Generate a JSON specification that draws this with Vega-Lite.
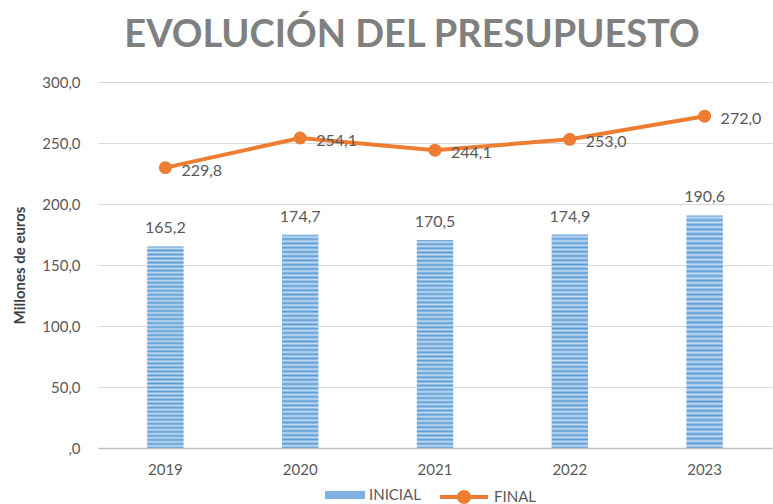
{
  "$schema": "https://vega.github.io/schema/vega-lite/v6.json",
  "autosize": {"type": "none"},
  "width": 674,
  "height": 366,
  "padding": {"top": 82, "left": 98, "right": 1, "bottom": 56},
  "background": "white",
  "title": {
    "text": "EVOLUCIÓN DEL PRESUPUESTO",
    "font": "Lato",
    "fontSize": 38,
    "fontWeight": "bold",
    "color": "#808080",
    "anchor": "middle",
    "dx": -23,
    "offset": 20
  },
  "data": {
    "values": [
      {"anio": "2019", "tipo": "INICIAL", "valor": 165.2},
      {"anio": "2020", "tipo": "INICIAL", "valor": 174.7},
      {"anio": "2021", "tipo": "INICIAL", "valor": 170.5},
      {"anio": "2022", "tipo": "INICIAL", "valor": 174.9},
      {"anio": "2023", "tipo": "INICIAL", "valor": 190.6},
      {"anio": "2019", "tipo": "FINAL", "valor": 229.8},
      {"anio": "2020", "tipo": "FINAL", "valor": 254.1},
      {"anio": "2021", "tipo": "FINAL", "valor": 244.1},
      {"anio": "2022", "tipo": "FINAL", "valor": 253.0},
      {"anio": "2023", "tipo": "FINAL", "valor": 272.0}
    ]
  },
  "encoding": {
    "x": {
      "field": "anio", "type": "ordinal", "title": null,
      "scale": {"paddingInner": 0.73, "paddingOuter": 0.365},
      "axis": {"labelAngle": 0, "ticks": false, "domainColor": "#bfbfbf", "domainWidth": 1.5, "labelPadding": 14, "labelFont": "Lato", "labelFontSize": 15, "labelColor": "#595959"}
    },
    "y": {
      "field": "valor", "type": "quantitative", "title": "Millones de euros",
      "scale": {"domain": [0, 300], "nice": false},
      "axis": {"values": [0, 50, 100, 150, 200, 250, 300], "labelExpr": "datum.value == 0 ? ',0' : replace(format(datum.value, '.1f'), '.', ',')", "domain": false, "ticks": false, "gridColor": "#d9d9d9", "gridWidth": 1.2, "labelPadding": 18, "labelFont": "Lato", "labelFontSize": 15, "labelColor": "#595959", "titleFont": "Lato", "titleFontSize": 15, "titleFontWeight": "bold", "titleColor": "#404040", "titlePadding": 14}
    }
  },
  "layer": [
    {
      "transform": [{"filter": "datum.tipo == 'INICIAL'"}],
      "mark": {"type": "bar", "opacity": 0},
      "encoding": {
        "fill": {
          "field": "tipo", "type": "nominal",
          "scale": {"domain": ["INICIAL"], "range": ["#7fb0e0"]},
          "legend": {"title": null, "orient": "bottom", "symbolType": "M-2,-0.4H2V0.4H-2Z", "symbolSize": 400, "symbolStrokeWidth": 0, "symbolOpacity": 1, "labelFont": "Lato", "labelFontSize": 15, "labelColor": "#595959", "labelOffset": 14, "offset": 8, "padding": 0}
        }
      }
    },
    {
      "transform": [{"filter": "datum.tipo == 'INICIAL'"}],
      "mark": {
        "type": "bar",
        "fill": {"gradient": "linear", "x1": 0, "y1": 0, "x2": 0, "y2": 1, "stops": [
          {"offset": 0.00, "color": "#5b9bd5"},{"offset": 0.01, "color": "#c5dcf2"},{"offset": 0.02, "color": "#5b9bd5"},{"offset": 0.03, "color": "#c5dcf2"},{"offset": 0.04, "color": "#5b9bd5"},{"offset": 0.05, "color": "#c5dcf2"},{"offset": 0.06, "color": "#5b9bd5"},{"offset": 0.07, "color": "#c5dcf2"},{"offset": 0.08, "color": "#5b9bd5"},{"offset": 0.09, "color": "#c5dcf2"},
          {"offset": 0.10, "color": "#5b9bd5"},{"offset": 0.11, "color": "#c5dcf2"},{"offset": 0.12, "color": "#5b9bd5"},{"offset": 0.13, "color": "#c5dcf2"},{"offset": 0.14, "color": "#5b9bd5"},{"offset": 0.15, "color": "#c5dcf2"},{"offset": 0.16, "color": "#5b9bd5"},{"offset": 0.17, "color": "#c5dcf2"},{"offset": 0.18, "color": "#5b9bd5"},{"offset": 0.19, "color": "#c5dcf2"},
          {"offset": 0.20, "color": "#5b9bd5"},{"offset": 0.21, "color": "#c5dcf2"},{"offset": 0.22, "color": "#5b9bd5"},{"offset": 0.23, "color": "#c5dcf2"},{"offset": 0.24, "color": "#5b9bd5"},{"offset": 0.25, "color": "#c5dcf2"},{"offset": 0.26, "color": "#5b9bd5"},{"offset": 0.27, "color": "#c5dcf2"},{"offset": 0.28, "color": "#5b9bd5"},{"offset": 0.29, "color": "#c5dcf2"},
          {"offset": 0.30, "color": "#5b9bd5"},{"offset": 0.31, "color": "#c5dcf2"},{"offset": 0.32, "color": "#5b9bd5"},{"offset": 0.33, "color": "#c5dcf2"},{"offset": 0.34, "color": "#5b9bd5"},{"offset": 0.35, "color": "#c5dcf2"},{"offset": 0.36, "color": "#5b9bd5"},{"offset": 0.37, "color": "#c5dcf2"},{"offset": 0.38, "color": "#5b9bd5"},{"offset": 0.39, "color": "#c5dcf2"},
          {"offset": 0.40, "color": "#5b9bd5"},{"offset": 0.41, "color": "#c5dcf2"},{"offset": 0.42, "color": "#5b9bd5"},{"offset": 0.43, "color": "#c5dcf2"},{"offset": 0.44, "color": "#5b9bd5"},{"offset": 0.45, "color": "#c5dcf2"},{"offset": 0.46, "color": "#5b9bd5"},{"offset": 0.47, "color": "#c5dcf2"},{"offset": 0.48, "color": "#5b9bd5"},{"offset": 0.49, "color": "#c5dcf2"},
          {"offset": 0.50, "color": "#5b9bd5"},{"offset": 0.51, "color": "#c5dcf2"},{"offset": 0.52, "color": "#5b9bd5"},{"offset": 0.53, "color": "#c5dcf2"},{"offset": 0.54, "color": "#5b9bd5"},{"offset": 0.55, "color": "#c5dcf2"},{"offset": 0.56, "color": "#5b9bd5"},{"offset": 0.57, "color": "#c5dcf2"},{"offset": 0.58, "color": "#5b9bd5"},{"offset": 0.59, "color": "#c5dcf2"},
          {"offset": 0.60, "color": "#5b9bd5"},{"offset": 0.61, "color": "#c5dcf2"},{"offset": 0.62, "color": "#5b9bd5"},{"offset": 0.63, "color": "#c5dcf2"},{"offset": 0.64, "color": "#5b9bd5"},{"offset": 0.65, "color": "#c5dcf2"},{"offset": 0.66, "color": "#5b9bd5"},{"offset": 0.67, "color": "#c5dcf2"},{"offset": 0.68, "color": "#5b9bd5"},{"offset": 0.69, "color": "#c5dcf2"},
          {"offset": 0.70, "color": "#5b9bd5"},{"offset": 0.71, "color": "#c5dcf2"},{"offset": 0.72, "color": "#5b9bd5"},{"offset": 0.73, "color": "#c5dcf2"},{"offset": 0.74, "color": "#5b9bd5"},{"offset": 0.75, "color": "#c5dcf2"},{"offset": 0.76, "color": "#5b9bd5"},{"offset": 0.77, "color": "#c5dcf2"},{"offset": 0.78, "color": "#5b9bd5"},{"offset": 0.79, "color": "#c5dcf2"},
          {"offset": 0.80, "color": "#5b9bd5"},{"offset": 0.81, "color": "#c5dcf2"},{"offset": 0.82, "color": "#5b9bd5"},{"offset": 0.83, "color": "#c5dcf2"},{"offset": 0.84, "color": "#5b9bd5"},{"offset": 0.85, "color": "#c5dcf2"},{"offset": 0.86, "color": "#5b9bd5"},{"offset": 0.87, "color": "#c5dcf2"},{"offset": 0.88, "color": "#5b9bd5"},{"offset": 0.89, "color": "#c5dcf2"},
          {"offset": 0.90, "color": "#5b9bd5"},{"offset": 0.91, "color": "#c5dcf2"},{"offset": 0.92, "color": "#5b9bd5"},{"offset": 0.93, "color": "#c5dcf2"},{"offset": 0.94, "color": "#5b9bd5"},{"offset": 0.95, "color": "#c5dcf2"},{"offset": 0.96, "color": "#5b9bd5"},{"offset": 0.97, "color": "#c5dcf2"},{"offset": 0.98, "color": "#5b9bd5"},{"offset": 0.99, "color": "#c5dcf2"},
          {"offset": 1.00, "color": "#5b9bd5"}
        ]}
      },
      "encoding": {}
    },
    {
      "transform": [{"filter": "datum.tipo == 'INICIAL'"}],
      "mark": {"type": "text", "baseline": "bottom", "dy": -10, "font": "Lato", "fontSize": 16, "color": "#595959"},
      "encoding": {"text": {"field": "valor", "type": "quantitative", "format": ".1f"}}
    },
    {
      "transform": [{"filter": "datum.tipo == 'FINAL'"}],
      "mark": {"type": "line", "strokeWidth": 4, "color": "#ed7d31", "point": {"filled": true, "size": 120, "color": "#ed7d31"}},
      "encoding": {
        "stroke": {
          "field": "tipo", "type": "nominal",
          "scale": {"domain": ["FINAL"], "range": ["#ed7d31"]},
          "legend": {"title": null, "orient": "bottom", "symbolType": "M-2.4,0H2.4M0.5,0A0.5,0.5,0,1,1,-0.5,0A0.5,0.5,0,1,1,0.5,0", "symbolSize": 400, "symbolStrokeWidth": 4, "symbolFillColor": "#ed7d31", "labelFont": "Lato", "labelFontSize": 15, "labelColor": "#595959", "labelOffset": 18, "offset": 8, "padding": 0}
        }
      }
    },
    {
      "transform": [{"filter": "datum.tipo == 'FINAL'"}],
      "mark": {"type": "text", "align": "left", "baseline": "middle", "dx": 16, "dy": 3, "font": "Lato", "fontSize": 16, "color": "#595959"},
      "encoding": {"text": {"field": "valor", "type": "quantitative", "format": ".1f"}}
    }
  ],
  "config": {
    "view": {"stroke": null},
    "legend": {"layout": {"bottom": {"anchor": "middle", "direction": "horizontal", "margin": 31}}},
    "locale": {"number": {"decimal": ",", "thousands": ".", "grouping": [3], "currency": ["", " €"]}}
  }
}
